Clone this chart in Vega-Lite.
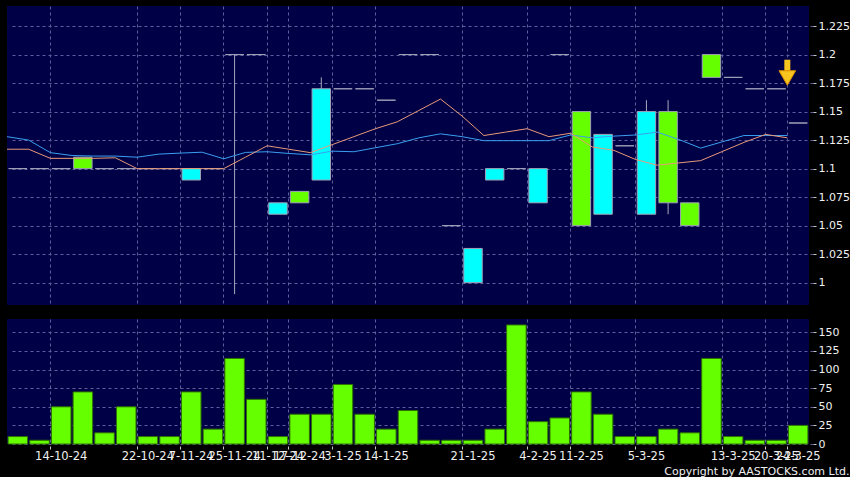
{
  "$schema": "https://vega.github.io/schema/vega-lite/v6.json",
  "background": "#000000",
  "padding": {"left": 5, "top": 6, "right": 0, "bottom": 0},
  "config": {
    "font": "DejaVu Sans",
    "view": {"fill": "#000046", "stroke": null},
    "axis": {"gridColor": "#5e5e9e", "gridDash": [3, 3], "gridWidth": 1, "domain": false, "labelColor": "#f0f0f0", "labelFont": "DejaVu Sans", "labelFontSize": 11, "tickColor": "#c8c8c8", "labelOverlap": false},
    "axisY": {"orient": "right", "offset": 4, "tickSize": 3, "labelPadding": 2, "grid": true, "title": null, "labelOverlap": false}
  },
  "title": {"text": "Copyright by AASTOCKS.com Ltd.", "orient": "bottom", "anchor": "end", "color": "#f0f0f0", "fontSize": 11, "fontWeight": "normal", "font": "DejaVu Sans", "offset": 4},
  "datasets": {
    "k": [
      {"i": 1, "o": 1.10, "c": 1.10, "h": 1.10, "l": 1.10, "v": 10, "ma20": 1.128, "ma10": 1.117},
      {"i": 2, "o": 1.10, "c": 1.10, "h": 1.10, "l": 1.10, "v": 5, "ma20": 1.125, "ma10": 1.117},
      {"i": 3, "o": 1.10, "c": 1.10, "h": 1.10, "l": 1.10, "v": 50, "ma20": 1.114, "ma10": 1.109},
      {"i": 4, "o": 1.11, "c": 1.10, "h": 1.11, "l": 1.10, "v": 70, "ma20": 1.1115, "ma10": 1.109},
      {"i": 5, "o": 1.10, "c": 1.10, "h": 1.10, "l": 1.10, "v": 15, "ma20": 1.111, "ma10": 1.109},
      {"i": 6, "o": 1.10, "c": 1.10, "h": 1.10, "l": 1.10, "v": 50, "ma20": 1.111, "ma10": 1.1095},
      {"i": 7, "o": 1.10, "c": 1.10, "h": 1.10, "l": 1.10, "v": 10, "ma20": 1.110, "ma10": 1.100},
      {"i": 8, "o": 1.10, "c": 1.10, "h": 1.10, "l": 1.10, "v": 10, "ma20": 1.1127, "ma10": 1.100},
      {"i": 9, "o": 1.09, "c": 1.10, "h": 1.10, "l": 1.09, "v": 70, "ma20": 1.1136, "ma10": 1.100},
      {"i": 10, "o": 1.10, "c": 1.10, "h": 1.10, "l": 1.10, "v": 20, "ma20": 1.1144, "ma10": 1.100},
      {"i": 11, "o": 1.20, "c": 1.20, "h": 1.20, "l": 0.99, "v": 115, "ma20": 1.1086, "ma10": 1.100},
      {"i": 12, "o": 1.20, "c": 1.20, "h": 1.20, "l": 1.20, "v": 60, "ma20": 1.1142, "ma10": 1.110},
      {"i": 13, "o": 1.06, "c": 1.07, "h": 1.07, "l": 1.06, "v": 10, "ma20": 1.1148, "ma10": 1.120},
      {"i": 14, "o": 1.08, "c": 1.07, "h": 1.08, "l": 1.07, "v": 40, "ma20": 1.1133, "ma10": 1.117},
      {"i": 15, "o": 1.09, "c": 1.17, "h": 1.18, "l": 1.09, "v": 40, "ma20": 1.1121, "ma10": 1.114},
      {"i": 16, "o": 1.17, "c": 1.17, "h": 1.17, "l": 1.17, "v": 80, "ma20": 1.1153, "ma10": 1.121},
      {"i": 17, "o": 1.17, "c": 1.17, "h": 1.17, "l": 1.17, "v": 40, "ma20": 1.1148, "ma10": 1.128},
      {"i": 18, "o": 1.16, "c": 1.16, "h": 1.16, "l": 1.16, "v": 20, "ma20": 1.1183, "ma10": 1.135},
      {"i": 19, "o": 1.20, "c": 1.20, "h": 1.20, "l": 1.20, "v": 45, "ma20": 1.1218, "ma10": 1.141},
      {"i": 20, "o": 1.20, "c": 1.20, "h": 1.20, "l": 1.20, "v": 5, "ma20": 1.127, "ma10": 1.151},
      {"i": 21, "o": 1.05, "c": 1.05, "h": 1.05, "l": 1.05, "v": 5, "ma20": 1.1305, "ma10": 1.161},
      {"i": 22, "o": 1.00, "c": 1.03, "h": 1.03, "l": 1.00, "v": 5, "ma20": 1.128, "ma10": 1.146},
      {"i": 23, "o": 1.09, "c": 1.10, "h": 1.10, "l": 1.09, "v": 20, "ma20": 1.1245, "ma10": 1.129},
      {"i": 24, "o": 1.10, "c": 1.10, "h": 1.10, "l": 1.10, "v": 160, "ma20": 1.1245, "ma10": 1.132},
      {"i": 25, "o": 1.07, "c": 1.10, "h": 1.10, "l": 1.07, "v": 30, "ma20": 1.1245, "ma10": 1.135},
      {"i": 26, "o": 1.20, "c": 1.20, "h": 1.20, "l": 1.20, "v": 35, "ma20": 1.1245, "ma10": 1.128},
      {"i": 27, "o": 1.15, "c": 1.05, "h": 1.15, "l": 1.05, "v": 70, "ma20": 1.1295, "ma10": 1.131},
      {"i": 28, "o": 1.06, "c": 1.13, "h": 1.13, "l": 1.06, "v": 40, "ma20": 1.127, "ma10": 1.119},
      {"i": 29, "o": 1.12, "c": 1.12, "h": 1.12, "l": 1.12, "v": 10, "ma20": 1.1285, "ma10": 1.116},
      {"i": 30, "o": 1.06, "c": 1.15, "h": 1.16, "l": 1.06, "v": 10, "ma20": 1.1295, "ma10": 1.108},
      {"i": 31, "o": 1.15, "c": 1.07, "h": 1.16, "l": 1.06, "v": 20, "ma20": 1.132, "ma10": 1.103},
      {"i": 32, "o": 1.07, "c": 1.05, "h": 1.07, "l": 1.05, "v": 15, "ma20": 1.1255, "ma10": 1.105},
      {"i": 33, "o": 1.20, "c": 1.18, "h": 1.20, "l": 1.18, "v": 115, "ma20": 1.118, "ma10": 1.107},
      {"i": 34, "o": 1.18, "c": 1.18, "h": 1.18, "l": 1.18, "v": 10, "ma20": 1.1235, "ma10": 1.115},
      {"i": 35, "o": 1.17, "c": 1.17, "h": 1.17, "l": 1.17, "v": 5, "ma20": 1.129, "ma10": 1.123},
      {"i": 36, "o": 1.17, "c": 1.17, "h": 1.17, "l": 1.17, "v": 5, "ma20": 1.129, "ma10": 1.130},
      {"i": 37, "o": 1.14, "c": 1.14, "h": 1.14, "l": 1.14, "v": 25, "ma20": 1.129, "ma10": 1.127}
    ],
    "arrow": [{"i": 37, "top": 1.1955, "neck": 1.184, "tip": 1.1795}]
  },
  "spacing": 14,
  "vconcat": [
    {
      "width": 802,
      "height": 299,
      "encoding": {
        "x": {"field": "i", "type": "ordinal", "scale": {"paddingInner": 0, "paddingOuter": 0},
          "axis": {"values": [3, 7, 9, 11, 13, 14, 16, 18, 22, 25, 27, 30, 34, 36, 37], "bandPosition": 0, "labels": false, "ticks": false, "domain": false, "grid": true, "title": null}}
      },
      "layer": [
        {
          "data": {"name": "k"},
          "mark": {"type": "rule", "color": "#a8a8bc", "strokeWidth": 1},
          "encoding": {
            "y": {"field": "l", "type": "quantitative", "scale": {"domain": [0.9804, 1.2426], "nice": false, "zero": false},
              "axis": {"values": [1, 1.025, 1.05, 1.075, 1.1, 1.125, 1.15, 1.175, 1.2, 1.225], "labelExpr": "format(datum.value, '.3~f')"}},
            "y2": {"field": "h"}
          }
        },
        {
          "data": {"name": "k"},
          "mark": {"type": "bar", "width": {"band": 0.85}, "stroke": "#a0a0b8", "strokeWidth": 1},
          "encoding": {
            "y": {"field": "o", "type": "quantitative",
              "axis": {"values": [1, 1.025, 1.05, 1.075, 1.1, 1.125, 1.15, 1.175, 1.2, 1.225], "labelExpr": "format(datum.value, '.3~f')"}},
            "y2": {"field": "c"},
            "fill": {"condition": {"test": "datum.c > datum.o", "value": "#00ffff"}, "value": "#66ff00"}
          }
        },
        {
          "data": {"name": "k"},
          "mark": {"type": "line", "color": "#3a9ff0", "strokeWidth": 1},
          "encoding": {
            "x": {"field": "i", "type": "ordinal", "bandPosition": 0},
            "y": {"field": "ma20", "type": "quantitative",
              "axis": {"values": [1, 1.025, 1.05, 1.075, 1.1, 1.125, 1.15, 1.175, 1.2, 1.225], "labelExpr": "format(datum.value, '.3~f')"}}
          }
        },
        {
          "data": {"name": "k"},
          "mark": {"type": "line", "color": "#e89a78", "strokeWidth": 1},
          "encoding": {
            "x": {"field": "i", "type": "ordinal", "bandPosition": 0},
            "y": {"field": "ma10", "type": "quantitative",
              "axis": {"values": [1, 1.025, 1.05, 1.075, 1.1, 1.125, 1.15, 1.175, 1.2, 1.225], "labelExpr": "format(datum.value, '.3~f')"}}
          }
        },
        {
          "data": {"name": "arrow"},
          "mark": {"type": "rule", "color": "#f7c51e", "strokeWidth": 6},
          "encoding": {
            "x": {"field": "i", "type": "ordinal", "bandPosition": 0},
            "y": {"field": "top", "type": "quantitative",
              "axis": {"values": [1, 1.025, 1.05, 1.075, 1.1, 1.125, 1.15, 1.175, 1.2, 1.225], "labelExpr": "format(datum.value, '.3~f')"}},
            "y2": {"field": "neck"}
          }
        },
        {
          "data": {"name": "arrow"},
          "mark": {"type": "point", "shape": "triangle-down", "filled": true, "color": "#f7c51e", "stroke": "#d98a00", "strokeWidth": 1, "size": 280, "opacity": 1},
          "encoding": {
            "x": {"field": "i", "type": "ordinal", "bandPosition": 0},
            "y": {"field": "tip", "type": "quantitative",
              "axis": {"values": [1, 1.025, 1.05, 1.075, 1.1, 1.125, 1.15, 1.175, 1.2, 1.225], "labelExpr": "format(datum.value, '.3~f')"}}
          }
        }
      ]
    },
    {
      "width": 802,
      "height": 125,
      "data": {"name": "k"},
      "mark": {"type": "bar", "width": {"band": 0.9}, "fill": "#66ff00", "stroke": "#2f7000", "strokeWidth": 1},
      "encoding": {
        "x": {"field": "i", "type": "ordinal", "scale": {"paddingInner": 0, "paddingOuter": 0},
          "axis": {"values": [3, 7, 9, 11, 13, 14, 16, 18, 22, 25, 27, 30, 34, 36, 37], "bandPosition": 0, "labelAngle": 0, "labelOverlap": false, "labelFontSize": 11.5, "labelPadding": 1, "offset": 2, "tickSize": 3, "domain": false, "grid": true, "title": null,
            "labelExpr": "['','','','14-10-24','','','','22-10-24','','7-11-24','','25-11-24','','11-12-24','17-12-24','','3-1-25','','14-1-25','','','','21-1-25','','','4-2-25','','11-2-25','','','5-3-25','','','','13-3-25','','20-3-25','24-3-25'][datum.value]"}},
        "y": {"field": "v", "type": "quantitative", "scale": {"domain": [0, 168], "nice": false},
          "axis": {"values": [0, 25, 50, 75, 100, 125, 150]}}
      }
    }
  ]
}
